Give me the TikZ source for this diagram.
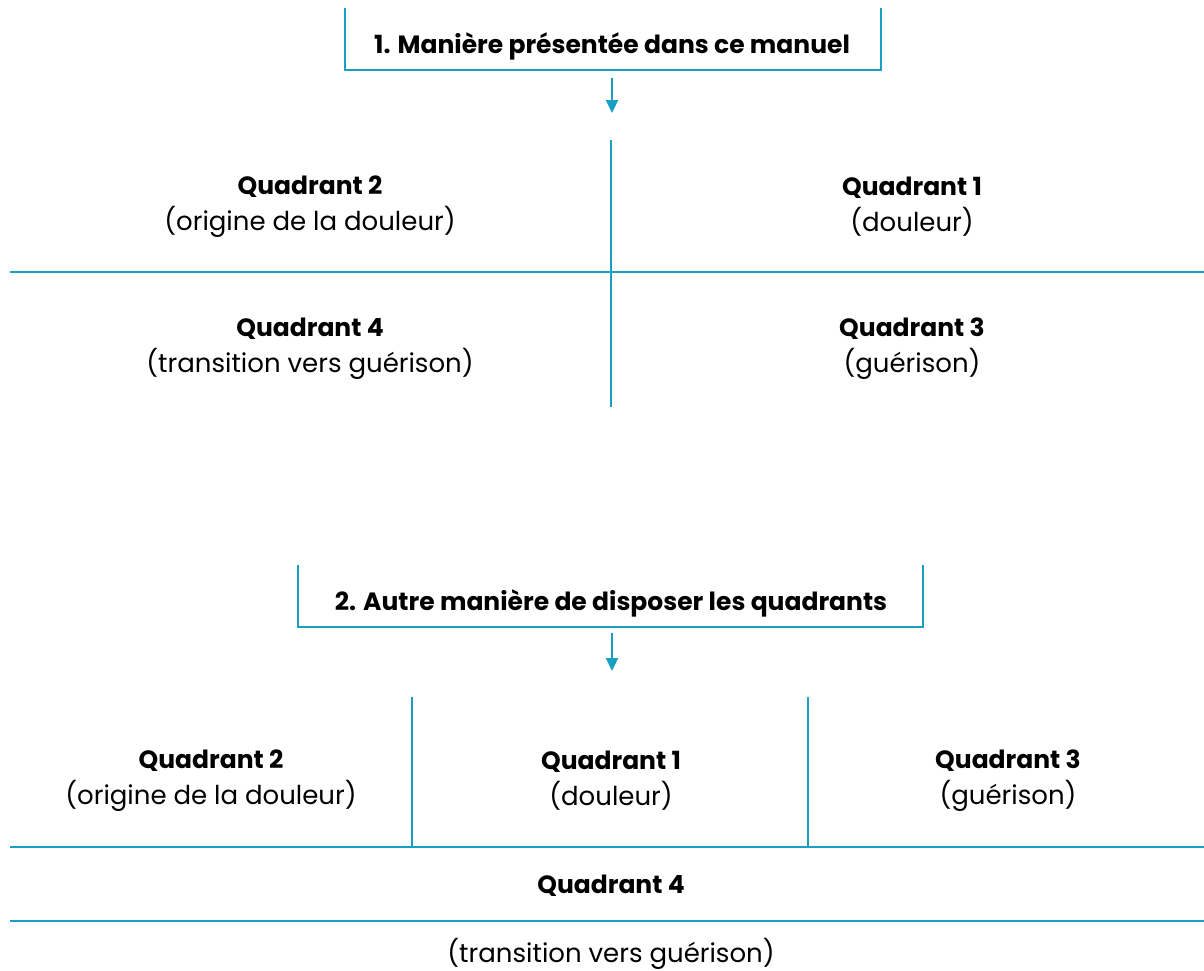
\documentclass[tikz,border=0pt]{standalone}
\usepackage{fontspec}
\setmainfont{Poppins}
\usetikzlibrary{arrows.meta}
\definecolor{lc}{HTML}{1A9FC4}
\newcommand{\myboldq}{\fontsize{25}{36}\selectfont\bfseries}
\newcommand{\myregq}{\fontsize{26}{36}\selectfont\mdseries}
\begin{document}
\begin{tikzpicture}[x=1pt,y=-1pt,
  ln/.style={draw=lc,line width=2.2pt},
  arr/.style={draw=lc,line width=2.2pt,-{Triangle[length=13pt,width=12pt]}},
  title/.style={font=\myboldq,inner sep=0pt},
  quad/.style={align=center,font=\myregq,inner sep=0pt}]
\useasboundingbox (0,0) rectangle (1204,970);
% bracket 1
\draw[ln] (345,8) -- (345,70) -- (881,70) -- (881,8);
\node[title] (t1) at (612,46) {1. Manière présentée dans ce manuel};
\coordinate (a1s) at (612,78);
\coordinate (a1e) at (612,113);
\draw[arr] (a1s) -- (a1e);
% grid 1
\draw[ln] (611,140) -- (611,407);
\draw[ln] (10,272) -- (1204,272);
\node[quad] (q2a) at (310,207) {{\myboldq Quadrant 2}\\(origine de la douleur)};
\node[quad] (q1a) at (912,207) {{\myboldq Quadrant 1}\\(douleur)};
\node[quad] (q4a) at (310,349) {{\myboldq Quadrant 4}\\(transition vers guérison)};
\node[quad] (q3a) at (912,349) {{\myboldq Quadrant 3}\\(guérison)};
% bracket 2
\draw[ln] (298,565) -- (298,627) -- (923,627) -- (923,565);
\node[title] (t2) at (611,603) {2. Autre manière de disposer les quadrants};
\coordinate (a2s) at (612,633);
\coordinate (a2e) at (612,671);
\draw[arr] (a2s) -- (a2e);
% grid 2
\draw[ln] (412,697) -- (412,847);
\draw[ln] (808,697) -- (808,847);
\draw[ln] (10,847) -- (1204,847);
\draw[ln] (10,921) -- (1204,921);
\node[quad] (q2b) at (211,781) {{\myboldq Quadrant 2}\\(origine de la douleur)};
\node[quad] (q1b) at (611,781) {{\myboldq Quadrant 1}\\(douleur)};
\node[quad] (q3b) at (1008,781) {{\myboldq Quadrant 3}\\(guérison)};
\node[title] (q4b) at (611,886) {Quadrant 4};
\node[quad] (q4bt) at (611,954) {(transition vers guérison)};
\end{tikzpicture}
\end{document}
